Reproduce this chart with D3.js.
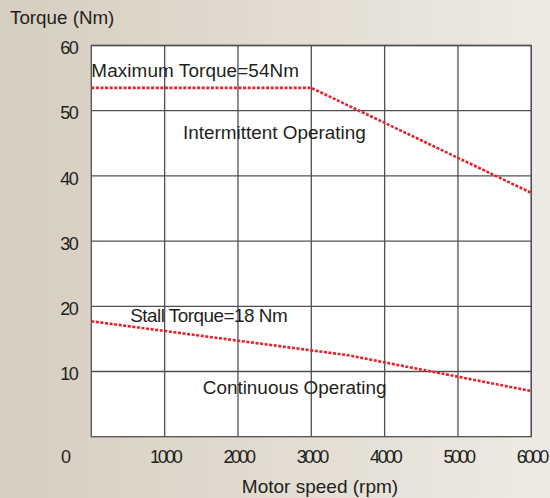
<!DOCTYPE html>
<html>
<head>
<meta charset="utf-8">
<script src="https://cdn.jsdelivr.net/npm/d3@7"></script>
<style>
  html, body { margin: 0; padding: 0; }
  body { width: 550px; height: 498px; overflow: hidden; }
  svg text { font-family: "Liberation Sans", Arial, Helvetica, sans-serif; fill: #231f20; }
</style>
</head>
<body>
<svg id="chart" width="550" height="498"></svg>
<script>
// ---- data ----
const xTicks = [1000, 2000, 3000, 4000, 5000, 6000];
const yTicks = [10, 20, 30, 40, 50, 60];
const maxSpeed = [0, 3000, 6000];
const maxTorque = [53.5, 53.5, 37.4];
const contSpeed = [0, 3500, 6000];
const contTorque = [17.7, 12.5, 7.0];
const annotations = [
  { text: "Maximum Torque=54Nm", x: 0, y: 55.2, ls: 0.1 },
  { text: "Intermittent Operating", x: 1250, y: 45.7, ls: 0 },
  { text: "Stall Torque=18 Nm", x: 530, y: 17.6, ls: -0.5 },
  { text: "Continuous Operating", x: 1520, y: 6.5, ls: 0 }
];
const yTitle = "Torque (Nm)";
const xTitle = "Motor speed (rpm)";

// ---- layout ----
const W = 550, H = 498;
const m = { left: 91.3, right: 531.3, top: 45.5, bottom: 436.7 };
const svg = d3.select("#chart");

const defs = svg.append("defs");
const grad = defs.append("linearGradient").attr("id", "bg").attr("x1", "0").attr("x2", "1").attr("y1", "0").attr("y2", "0");
grad.append("stop").attr("offset", "0").attr("stop-color", "#d6cebf");
grad.append("stop").attr("offset", "0.5").attr("stop-color", "#e2dcd1");
grad.append("stop").attr("offset", "1").attr("stop-color", "#eeebe5");
svg.append("rect").attr("width", W).attr("height", H).attr("fill", "url(#bg)");

const x = d3.scaleLinear().domain([0, 6000]).range([m.left, m.right]);
const y = d3.scaleLinear().domain([0, 60]).range([m.bottom, m.top]);

// plot area
svg.append("rect")
  .attr("x", x(0)).attr("y", y(60))
  .attr("width", x(6000) - x(0)).attr("height", y(0) - y(60))
  .attr("fill", "#ffffff");

// grid
const gridColor = "#505050";
svg.append("g").selectAll("line").data(xTicks).join("line")
  .attr("x1", d => x(d)).attr("x2", d => x(d))
  .attr("y1", y(0)).attr("y2", y(60))
  .attr("stroke", gridColor).attr("stroke-width", 1.3);
svg.append("g").selectAll("line").data(yTicks).join("line")
  .attr("x1", x(0)).attr("x2", x(6000))
  .attr("y1", d => y(d)).attr("y2", d => y(d))
  .attr("stroke", gridColor).attr("stroke-width", 1.3);
svg.append("rect")
  .attr("x", x(0)).attr("y", y(60))
  .attr("width", x(6000) - x(0)).attr("height", y(0) - y(60))
  .attr("fill", "none").attr("stroke", gridColor).attr("stroke-width", 1.3);

// axes (labels only)
const yAxis = d3.axisLeft(y).tickValues(yTicks).tickFormat(d3.format("d")).tickSize(0).tickPadding(14);
const gy = svg.append("g").attr("transform", `translate(${x(0)},0)`).call(yAxis);
gy.select(".domain").remove();
gy.selectAll("text").attr("font-size", 18).attr("letter-spacing", "-1.5px")
  .attr("dy", "0.45em").style("fill", "#231f20");

const xAxis = d3.axisBottom(x).tickValues(xTicks).tickFormat(d3.format("d")).tickSize(0).tickPadding(14);
const gx = svg.append("g").attr("transform", `translate(0,${y(0)})`).call(xAxis);
gx.select(".domain").remove();
gx.selectAll("text").attr("font-size", 18).attr("letter-spacing", "-2.5px")
  .attr("dy", "0.71em").style("fill", "#231f20");

// origin "0"
svg.append("text").attr("x", 66).attr("y", y(0) + 26.5)
  .attr("text-anchor", "middle").attr("font-size", 18).text("0");

// titles
svg.append("text").attr("x", 10).attr("y", 24).attr("font-size", 18.8).text(yTitle);
svg.append("text").attr("x", 320).attr("y", 493).attr("text-anchor", "middle").attr("font-size", 19).text(xTitle);

// curves
const line = d3.line().x(d => x(d[0])).y(d => y(d[1]));
const curves = [d3.zip(maxSpeed, maxTorque), d3.zip(contSpeed, contTorque)];
svg.append("g").selectAll("path").data(curves).join("path")
  .attr("d", line)
  .attr("fill", "none")
  .attr("stroke", "#e3232c")
  .attr("stroke-width", 2.6)
  .attr("stroke-dasharray", "3,1.6");

// annotations
svg.append("g").selectAll("text").data(annotations).join("text")
  .attr("x", d => x(d.x)).attr("y", d => y(d.y))
  .attr("font-size", 18.9)
  .attr("letter-spacing", d => d.ls + "px")
  .text(d => d.text);
</script>
</body>
</html>
